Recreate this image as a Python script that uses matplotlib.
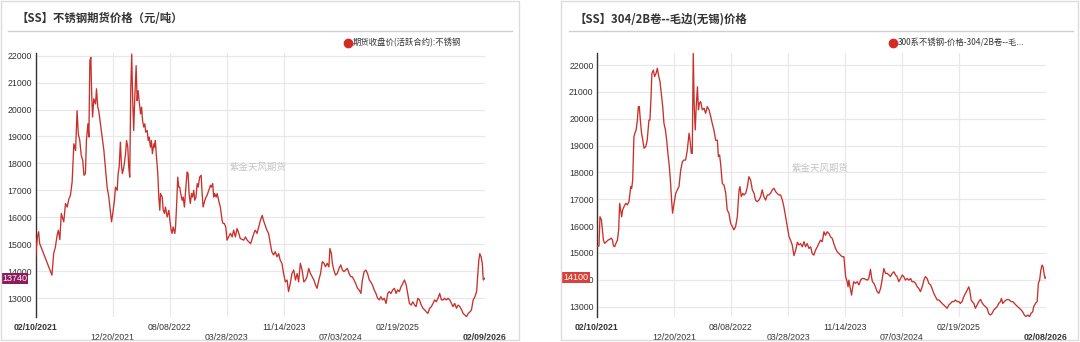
import matplotlib
matplotlib.use('Agg')
import matplotlib.pyplot as plt
import pandas as pd
from matplotlib.patches import Rectangle
from matplotlib.lines import Line2D

plt.rcParams['font.family'] = ['Liberation Sans', 'Noto Sans CJK SC', 'DejaVu Sans']
CJK = ['Noto Sans CJK SC', 'DejaVu Sans']

# ---------------- data ----------------
START = '2021-02-10'
titles = ['【SS】不锈钢期货价格（元/吨）', '【SS】304/2B卷--毛边(无锡)价格']
legend_labels = ['期货收盘价(活跃合约):不锈钢', '300系不锈钢-价格-304/2B卷--毛...']
watermark = '紫金天风期货'

# days since START, values (yuan/ton)
left_days = [0, 3, 7, 12, 16, 66, 73, 80, 87, 92, 98, 104, 114, 121, 128, 135, 141, 148, 155, 162, 168, 173, 179, 185, 191,
             196, 202, 206, 212, 216, 220, 224, 227, 231, 236, 243, 247, 252, 256, 263, 270, 277, 283, 290, 297, 304, 308,
             313, 320, 324, 331, 335, 339, 344, 348, 352, 358, 365, 369, 374, 378, 382, 386, 390, 394, 398, 402, 408, 412,
             416, 420, 426, 430, 434, 439, 443, 447, 453, 457, 461, 466, 470, 474, 480, 484, 486, 490, 496, 500, 504, 507,
             514, 518, 523, 527, 534, 541, 545, 550, 554, 558, 565, 568, 572, 577, 581, 585, 589, 595, 599, 604, 610, 615,
             619, 623, 628, 633, 637, 642, 646, 651, 656, 660, 666, 672, 676, 680, 687, 692, 696, 703, 710, 714, 719, 723,
             727, 733, 737, 743, 750, 757, 761, 766, 772, 777, 791, 798, 804, 811, 818, 825, 831, 845, 852, 859, 873, 886,
             892, 899, 906, 913, 920, 925, 932, 939, 946, 953, 959, 966, 973, 980, 987, 993, 1000, 1007, 1014, 1021, 1027,
             1034, 1041, 1048, 1055, 1062, 1068, 1075, 1082, 1089, 1096, 1102, 1109, 1116, 1123, 1130, 1137, 1143, 1150,
             1157, 1164, 1171, 1177, 1184, 1191, 1195, 1201, 1205, 1211, 1218, 1225, 1232, 1239, 1246, 1252, 1259, 1266,
             1273, 1280, 1286, 1293, 1300, 1307, 1314, 1321, 1327, 1334, 1341, 1348, 1355, 1361, 1368, 1375, 1382, 1389,
             1396, 1402, 1409, 1416, 1423, 1430, 1436, 1443, 1450, 1457, 1464, 1470, 1477, 1484, 1491, 1498, 1505, 1511,
             1518, 1525, 1532, 1539, 1545, 1552, 1559, 1566, 1573, 1580, 1586, 1593, 1600, 1607, 1614, 1620, 1627, 1634,
             1641, 1648, 1655, 1661, 1668, 1675, 1682, 1689, 1695, 1702, 1709, 1716, 1723, 1730, 1736, 1743, 1750, 1757,
             1764, 1770, 1777, 1784, 1791, 1795, 1800, 1804, 1809, 1814, 1818, 1825]
left_vals = [14530, 14900, 15270, 15460, 15030, 13850, 14650, 14900, 15330, 15520, 15170, 16140, 15830, 16510, 16380, 16690,
             16810, 17310, 18730, 18480, 19960, 19100, 18850, 18300, 18110, 17560, 17620, 18850, 19470, 18980, 21810,
             21940, 20700, 19720, 20400, 20210, 20770, 20090, 19960, 19470, 18980, 18480, 17860, 17120, 16750, 16140,
             15830, 16140, 16630, 17120, 17000, 17620, 17860, 18790, 17990, 17620, 17860, 18360, 18850, 18600, 17860,
             17490, 20700, 22060, 20330, 19220, 20330, 21630, 20330, 20700, 20330, 19840, 20090, 19590, 19350, 19470,
             19160, 19220, 18850, 18980, 18600, 18850, 18360, 18730, 18600, 18850, 18300, 17620, 16750, 16260, 16880,
             16750, 16260, 16140, 16380, 16010, 16260, 15890, 15520, 15400, 15640, 15400, 15640, 16380, 17490, 17120,
             17120, 16880, 16630, 16750, 16380, 17120, 17680, 17620, 16880, 16510, 16880, 16750, 17000, 16630, 16750,
             17250, 17120, 17490, 17560, 16880, 16380, 16630, 16750, 16810, 17000, 17190, 17120, 17250, 16750, 16880,
             16750, 16880, 16630, 16380, 15890, 15770, 15770, 15640, 15150, 15400, 15270, 15520, 15270, 15580, 15400,
             15210, 15150, 15270, 15150, 15020, 15400, 15520, 15400, 15640, 15890, 16070, 15890, 15700, 15520, 15400,
             15020, 14720, 14600, 14720, 14530, 14650, 14410, 14290, 13910, 13600, 13670, 13240, 13540, 13910, 14040,
             13670, 13910, 13600, 14290, 14040, 13600, 13670, 13790, 14100, 13910, 13790, 13670, 13480, 13360, 13670,
             13910, 14350, 14290, 14160, 14290, 14160, 14840, 14650, 14290, 14040, 13850, 13910, 14100, 14230, 14040,
             13980, 14040, 14100, 13910, 13790, 13790, 13670, 13540, 13360, 13300, 13170, 13670, 13980, 14040, 13910,
             13670, 13600, 13480, 13300, 13170, 12990, 12930, 13050, 12930, 12990, 12800, 13170, 13240, 13170, 13300,
             13360, 13170, 13300, 13240, 13420, 13540, 13670, 13480, 13170, 12800, 12740, 12860, 12740, 12680, 12990,
             12930, 12740, 12620, 12560, 12490, 12430, 12620, 12680, 12800, 12930, 12860, 12990, 13170, 12930, 12930,
             12990, 12930, 12990, 12930, 12800, 12680, 12800, 12620, 12740, 12680, 12560, 12430, 12370, 12310, 12430,
             12490, 12560, 12930, 13050, 13240, 13790, 14410, 14650, 14530, 14290, 13670, 13740]

right_days = [0, 8, 12, 18, 22, 26, 31, 38, 45, 52, 58, 63, 67, 72, 77, 83, 88, 92, 96, 100, 104, 110, 117, 123, 130, 137,
              141, 145, 150, 154, 159, 164, 168, 172, 176, 181, 186, 191, 198, 204, 211, 215, 219, 223, 229, 234, 240, 245,
              251, 256, 261, 267, 272, 278, 283, 288, 294, 299, 303, 307, 313, 320, 326, 333, 340, 347, 353, 360, 367, 374,
              378, 383, 387, 391, 395, 399, 403, 408, 412, 416, 421, 428, 435, 441, 448, 455, 462, 468, 475, 482, 489, 493,
              498, 502, 509, 516, 523, 529, 536, 543, 550, 556, 563, 570, 577, 581, 586, 592, 597, 604, 611, 617, 624, 631,
              638, 644, 651, 658, 665, 671, 678, 685, 692, 698, 705, 712, 719, 726, 732, 739, 746, 753, 759, 766, 773, 780,
              786, 793, 800, 807, 814, 820, 827, 834, 841, 847, 854, 861, 868, 874, 881, 888, 895, 901, 908, 915, 922, 928,
              935, 942, 949, 956, 962, 969, 976, 983, 989, 996, 1003, 1010, 1016, 1020, 1023, 1030, 1034, 1039, 1043, 1050,
              1057, 1064, 1071, 1077, 1084, 1091, 1098, 1104, 1111, 1115, 1119, 1125, 1131, 1138, 1145, 1152, 1158, 1165,
              1172, 1179, 1186, 1192, 1199, 1206, 1213, 1219, 1226, 1233, 1240, 1246, 1253, 1260, 1267, 1274, 1280, 1287,
              1294, 1301, 1307, 1314, 1321, 1328, 1334, 1341, 1348, 1355, 1361, 1368, 1375, 1382, 1389, 1395, 1402, 1409,
              1416, 1422, 1429, 1436, 1443, 1450, 1456, 1463, 1470, 1476, 1483, 1490, 1497, 1504, 1510, 1514, 1520, 1524,
              1531, 1537, 1544, 1551, 1558, 1564, 1571, 1578, 1585, 1591, 1598, 1605, 1612, 1619, 1625, 1632, 1639, 1643,
              1648, 1655, 1662, 1669, 1675, 1682, 1689, 1696, 1702, 1709, 1716, 1723, 1729, 1736, 1743, 1750, 1757, 1763,
              1770, 1774, 1781, 1788, 1793, 1798, 1803, 1808, 1812, 1816, 1820, 1824]
right_vals = [15235, 15260, 16350, 16230, 15860, 15480, 15360, 15420, 15480, 15510, 15550, 15480, 15260, 15235, 15360,
              15480, 15860, 16850, 16600, 16350, 16600, 16730, 16850, 16790, 16910, 17470, 17410, 17720, 19330, 19460,
              19580, 19950, 20450, 20450, 19950, 19460, 19200, 18900, 18960, 19200, 19950, 19950, 20700, 21690, 21810,
              21570, 21690, 21880, 21570, 21380, 20950, 20450, 19830, 19580, 19200, 18710, 18210, 17590, 16970, 16480,
              16850, 17220, 17350, 17470, 18090, 18400, 18460, 18460, 18840, 19460, 19200, 18710, 18710, 22430, 20450,
              19580, 20450, 21190, 20330, 20570, 20640, 20330, 20390, 20200, 20450, 20330, 20080, 19830, 19580, 19200,
              19200, 18590, 18650, 18340, 17590, 17530, 17220, 16600, 16480, 16100, 15980, 15860, 15980, 16350, 17350,
              17470, 17100, 17220, 17160, 17220, 17470, 17840, 17720, 17350, 17220, 16970, 16910, 16970, 17100, 17350,
              17100, 16970, 17160, 17160, 17220, 17350, 17410, 17280, 17220, 17160, 17160, 16970, 16730, 16350, 15980,
              15610, 15480, 15300, 14900, 15100, 15400, 15300, 15350, 15230, 15420, 15230, 15350, 15170, 15230, 14980,
              14920, 15110, 15230, 15350, 15480, 15420, 15790, 15660, 15790, 15730, 15600, 15540, 15350, 15170, 15040,
              14980, 14920, 14860, 14860, 14120, 13930, 13740, 13990, 13620, 13430, 13740, 13930, 13870, 13930, 13810,
              13990, 14050, 14050, 14020, 13990, 14050, 14390, 14120, 13930, 13870, 13740, 13560, 13500, 13680, 13990,
              14420, 14240, 14240, 14180, 14120, 14240, 14300, 14180, 14120, 13930, 14050, 14180, 14120, 13990, 14050,
              13990, 14050, 13930, 13930, 13870, 13740, 13680, 13560, 13740, 13990, 14120, 14050, 13870, 13810, 13680,
              13500, 13370, 13250, 13250, 13190, 13120, 13060, 13000, 12940, 13060, 13120, 13190, 13190, 13250, 13190,
              13190, 13120, 13190, 13370, 13500, 13620, 13740, 13620, 13250, 13190, 13120, 12940, 13060, 13190, 13270,
              13150, 13060, 13000, 12940, 12750, 12690, 12750, 12880, 12940, 13000, 13120, 13190, 13310, 13120, 13190,
              13250, 13270, 13250, 13190, 13190, 13120, 13060, 13000, 12940, 12880, 12810, 12690, 12630, 12690, 12630,
              12750, 12810, 13000, 13120, 13190, 13870, 13990, 14360, 14550, 14490, 14240, 14050, 14100]

yticks = [13000, 14000, 15000, 16000, 17000, 18000, 19000, 20000, 21000, 22000]
left_ylim = (12296, 22100)
right_ylim = (12616, 22447)

tick_dates = ['2021-02-10', '2021-12-20', '2022-08-08', '2023-03-28', '2023-11-14', '2024-07-03', '2025-02-19']
left_end, right_end = '2026-02-09', '2026-02-08'
left_grid_dates = ['2021-12-20', '2022-08-08', '2023-03-28', '2023-11-14']
right_grid_dates = ['2021-12-20', '2022-08-08', '2023-03-28', '2023-11-14', '2024-07-03', '2025-02-19']
last_labels = ['13740', '14100']
last_colors = ['#8c1c5c', '#d7433a']

LINE = '#c8312b'
GRID = '#e8e8e8'
TXT = '#333333'

W, H = 1080, 342
fig = plt.figure(figsize=(W / 100, H / 100), dpi=100)
fig.patch.set_facecolor('white')


def fx(px):
    return px / W


def fy(py):
    return 1 - py / H


def fmt(d):
    t = pd.Timestamp(d)
    return t.strftime('%m/%d/%Y')


panels = [
    dict(frame=(1, 1, 519, 340), sep=(8, 512), title_x=16, leg_x=348, ax_x=(35.7, 485.0),
         days=left_days, vals=left_vals, ylim=left_ylim, end=left_end, grid=left_grid_dates, wm=(0.496, 0.568)),
    dict(frame=(561, 1, 1078, 340), sep=(569, 1073), title_x=575, leg_x=893, ax_x=(597.0, 1046.0),
         days=right_days, vals=right_vals, ylim=right_ylim, end=right_end, grid=right_grid_dates, wm=(0.497, 0.564)),
]

for i, p in enumerate(panels):
    x0, y0, x1, y1 = p['frame']
    fig.add_artist(Rectangle((fx(x0), fy(y1)), fx(x1 - x0), (y1 - y0) / H, transform=fig.transFigure,
                             fill=False, edgecolor='#dcdcdc', lw=1.0))
    fig.add_artist(Line2D([fx(p['sep'][0]), fx(p['sep'][1])], [fy(30.5), fy(30.5)], transform=fig.transFigure,
                          color='#d0d0d0', lw=1.0))
    fig.text(fx(p['title_x']), fy(19), titles[i], family=CJK, fontsize=8.2, fontweight='bold', color=TXT,
             ha='left', va='center')
    fig.add_artist(Line2D([fx(p['leg_x'])], [fy(42.5)], transform=fig.transFigure, marker='o', markersize=6,
                          color='#d42c24', linestyle='none'))
    fig.text(fx(p['leg_x'] + 5), fy(42.5), legend_labels[i], family=CJK, fontsize=6, color=TXT,
             ha='left', va='center')

    ax = fig.add_axes([fx(p['ax_x'][0]), fy(317), fx(p['ax_x'][1] - p['ax_x'][0]), (317 - 53) / H])
    dates = pd.Timestamp(START) + pd.to_timedelta(p['days'], unit='D')
    ax.plot(dates, p['vals'], color=LINE, lw=0.95, zorder=3)
    ax.set_xlim(pd.Timestamp(START), pd.Timestamp(p['end']))
    ax.set_ylim(*p['ylim'])
    ax.set_yticks(yticks)
    ax.set_yticklabels([str(v) for v in yticks])
    ax.yaxis.grid(True, color=GRID, lw=0.9)
    ax.set_axisbelow(True)
    for gd in p['grid']:
        ax.axvline(pd.Timestamp(gd), color=GRID, lw=0.9, zorder=0)
    for s in ['top', 'right', 'bottom']:
        ax.spines[s].set_visible(False)
    ax.spines['left'].set_color('#333333')
    ax.spines['left'].set_linewidth(1.0)
    ax.tick_params(axis='y', length=0, pad=2.5, labelsize=6.3, labelcolor=TXT)
    ax.tick_params(axis='x', length=0, pad=4.5, labelsize=6.3, labelcolor=TXT)

    all_ticks = tick_dates + [p['end']]
    ax.set_xticks([pd.Timestamp(t) for t in all_ticks])
    labels = []
    for k, t in enumerate(all_ticks):
        lab = fmt(t)
        if k % 2 == 1:
            lab = '\n' + lab
        labels.append(lab)
    ax.set_xticklabels(labels, linespacing=1.05)
    tl = ax.get_xticklabels()
    tl[0].set_fontweight('bold')
    tl[-1].set_fontweight('bold')

    ax.text(p['wm'][0], p['wm'][1], watermark, transform=ax.transAxes, family=CJK, fontsize=6.8,
            color='#c4c4c4', ha='center', va='center', zorder=1)

    ax.annotate(last_labels[i], xy=(0, p['vals'][-1]), xycoords=('axes fraction', 'data'),
                xytext=(-8.5, 0), textcoords='offset pixels', ha='right', va='center', fontsize=6.5,
                color='white', bbox=dict(boxstyle='square,pad=0.12', fc=last_colors[i], ec='none'),
                annotation_clip=False, zorder=5)

fig.savefig('out.png', dpi=100, facecolor='white')
